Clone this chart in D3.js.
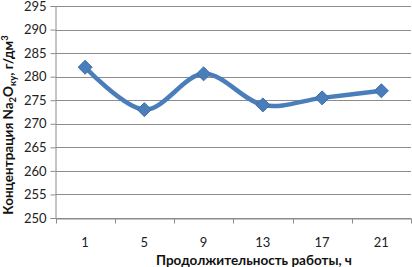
<!DOCTYPE html>
<html><head><meta charset="utf-8">
<script src="https://cdn.jsdelivr.net/npm/d3@7"></script>
<style>body{margin:0;background:#fff}svg{display:block}text{font-family:Lato,"Open Sans",sans-serif}</style>
</head><body>
<svg id="c" width="412" height="267"></svg>
<script>
const categories = ["1","5","9","13","17","21"];
const values = [282, 273, 280.6, 274, 275.5, 277];
const yTicks = [250,255,260,265,270,275,280,285,290,295];

const svg = d3.select("#c");
const L = 55.5, R = 411, T = 6, B = 218;
const x = d3.scaleBand().domain(categories).range([L, R]);
const y = d3.scaleLinear().domain([250, 295]).range([B, T]);

// grid
svg.append("g").selectAll("line").data(yTicks).join("line")
  .attr("x1", L).attr("x2", R)
  .attr("y1", d => Math.round(y(d)) + 0.5).attr("y2", d => Math.round(y(d)) + 0.5)
  .attr("stroke", "#8c8c8c").attr("stroke-width", 1);

// y axis
const ya = svg.append("g").attr("transform", `translate(${L},0)`)
  .call(d3.axisLeft(y).tickValues(yTicks).tickSize(5).tickPadding(4).tickFormat(d3.format("d")));
ya.select(".domain").attr("stroke", "#8c8c8c");
ya.selectAll(".tick line").attr("stroke", "#8c8c8c");
ya.selectAll(".tick text").attr("font-size", 13).attr("fill", "#222");

// x axis
const xa = svg.append("g").attr("transform", `translate(0,${Math.round(B)+0.5})`)
  .call(d3.axisBottom(x).tickSize(0).tickPadding(19));
xa.select(".domain").attr("stroke", "#8c8c8c");
xa.selectAll(".tick text").attr("font-size", 13).attr("fill", "#222");
const bounds = categories.map(c => x(c)).concat([R]);
xa.selectAll(".xt").data(bounds).join("line").attr("class","xt")
  .attr("x1", d => Math.round(d)+0.5).attr("x2", d => Math.round(d)+0.5)
  .attr("y1", 0).attr("y2", 5).attr("stroke", "#8c8c8c");

// line
const cx = (d, i) => x(categories[i]) + x.bandwidth() / 2;
const line = d3.line().x(cx).y(d => y(d)).curve(d3.curveCardinal.tension(0));
svg.append("path").datum(values).attr("d", line)
  .attr("fill", "none").attr("stroke", "#4a7ebb").attr("stroke-width", 4.5);

// markers
svg.append("g").selectAll("path").data(values).join("path")
  .attr("transform", (d, i) => `translate(${cx(d, i)},${y(d)})`)
  .attr("d", d3.symbol().type(d3.symbolDiamond2).size(125))
  .attr("fill", "#4a7ebb").attr("stroke", "#3f6fa8").attr("stroke-width", 1);

// x title
svg.append("text").attr("x", 254).attr("y", 265).attr("text-anchor", "middle")
  .attr("font-size", 13.5).attr("font-weight", "bold").attr("fill", "#111")
  .text("Продолжительность работы, ч");

// y title
const yt = svg.append("text").attr("transform", "translate(13,125) rotate(-90)")
  .attr("text-anchor", "middle").attr("font-size", 13.5).attr("font-weight", "bold").attr("fill", "#111");
yt.append("tspan").text("Концентрация Na");
yt.append("tspan").attr("font-size", 9.5).attr("dy", 3).text("2");
yt.append("tspan").attr("dy", -3).text("O");
yt.append("tspan").attr("font-size", 9.5).attr("dy", 3).text("ку");
yt.append("tspan").attr("dy", -3).text(", г/дм");
yt.append("tspan").attr("font-size", 9.5).attr("dy", -5).text("3");
</script>
</body></html>
